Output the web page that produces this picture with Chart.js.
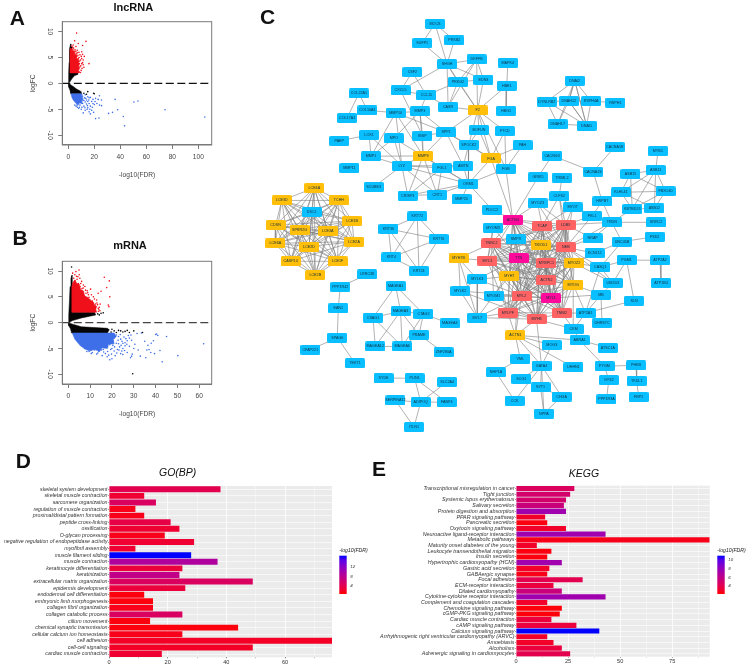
<!DOCTYPE html>
<html><head><meta charset="utf-8">
<script src="https://cdn.jsdelivr.net/npm/chart.js@4"></script>
<style>
html,body{margin:0;padding:0;background:#fff;width:746px;height:665px;overflow:hidden}
canvas{position:absolute;left:0;top:0;filter:blur(.3px)}
.t{position:absolute;transform:translate(-50%,-50%);font-family:"Liberation Sans",sans-serif;color:#111;white-space:nowrap}
</style></head><body>
<script>
// ---------- Volcano A (lncRNA): x = -log10(FDR), y = logFC ----------
const aBlackUpOutline=[[0,0],[.2,1],[.4,2],[.6,4],[.8,5.5],[1,6.6],[1.6,7.4],[2.3,7.1],[1.8,6.4],[1.4,5],[1.4,2],[7,2],[7.2,1.7],[5,1.5],[3,1],[1,.2],[0,0]];
const aBlackDownOutline=[[0,0],[.5,-.8],[1.5,-1.5],[2,-2],[10.5,-2],[10,-1.6],[6.4,-1.1],[3.8,-.6],[1.5,-.2],[0,0]];
const aRedOutline=[[1.3,2],[1.3,6.6],[2.2,6.9],[3.2,6.7],[3.6,6.2],[4.6,6.3],[5,5.5],[6,5.6],[6.3,4.8],[7.6,4.7],[7.6,4],[8.6,3.9],[8,3.2],[8.8,3],[7.8,2.5],[8,2],[1.3,2]];
const aBlueOutline=[[2,-2],[10,-2],[10.5,-2.6],[11.5,-3],[10.2,-3.4],[10.5,-3.9],[8.5,-3.8],[7.8,-4.2],[6,-3.9],[5,-3.6],[3.5,-3.1],[2.6,-2.6],[2,-2]];
const aRedPoints=[[6.4,9.7],[13.6,8.1],[11,7.3],[3.8,7.4],[4.9,8.2],[7.7,7.7],[5.9,7.1],[6.9,6.4],[10.3,6.1],[9,5.5],[11,5.6],[7.7,4.8],[10.3,4.8],[11.5,4.5],[15.9,3.8],[8.5,3.8],[10.3,3.8],[11,4],[9,3.2],[11.5,3.6],[8.5,2.2],[6.9,2.5],[5.2,6.5],[6.2,5.8],[7.4,5.4],[8.3,5],[9.4,4.5],[7.9,4.2],[8.8,4.3],[7.6,3.1],[8,2.8],[3.2,7],[2.6,7.2],[4.1,6.8],[6.6,5.2],[5.8,6.2],[9.6,3.4],[12,3.1],[9.9,2.5],[10.6,2.9],[9.3,2.1],[12.3,5.2],[8.2,6],[7.1,5.9],[10,5.2]];
const aBluePoints=[[10,-5],[8,-4.8],[12,-4.4],[13,-5.2],[15,-4.7],[16,-5.5],[17,-5.9],[18,-5.2],[14,-3.2],[15,-2.6],[16,-2.8],[18,-3.5],[19,-3.9],[20,-4.1],[22,-3.9],[23,-3.1],[21,-2.9],[24,-4.2],[11,-2.5],[13,-2.2],[17,-2.7],[25.5,-3.2],[24,-2.4],[25.6,-4.3],[21,-6.8],[23.6,-6.7],[31,-5.8],[34,-5.6],[38,-5.1],[36,-3.1],[50.5,-3.6],[53.6,-3.4],[42.3,-6.4],[43.3,-8.2],[74.4,-5.1],[105,-6.5],[9,-3.6],[11,-3.9],[12,-3.3],[14,-4],[16,-3.9],[7,-4.6],[9,-4.2],[11.5,-5.7],[5,-4.2],[6,-4.4],[13,-3.6],[12.5,-2.8],[15,-3.5],[17,-4.4],[18.5,-4.6],[14.5,-5],[10.5,-4.6],[19.5,-5.6],[12.8,-4.7],[11.2,-3.2],[13.5,-2.9],[14.7,-4.3],[8.6,-4.6],[6.8,-4.2],[15.8,-3.2],[16.6,-5],[19,-3.1],[20.6,-3.5]];
const aBlackPoints=[[15,-1.6],[20,-2],[19.5,-1.9],[14,-2.1],[12,-1.9],[1.9,7.5],[2.5,6.9],[8,-1.5]];

// ---------- Volcano B (mRNA) ----------
const bBlackUpOutline=[[0,0],[.2,1.5],[.5,4],[.8,7],[1.2,8.6],[1.7,9.2],[1.7,2],[12,2],[12.6,1.5],[6,.9],[2,.4],[0,0]];
const bBlackDownOutline=[[0,0],[.2,-.6],[1,-1.2],[1.5,-2],[18,-2],[18.6,-1.4],[18,-1.1],[6,-.8],[2,-.3],[0,0]];
const bRedOutline=[[1.6,2],[1.6,7],[2.4,8],[3,8.3],[3.9,7.6],[5,7.5],[5.6,6.5],[7,6.1],[7.4,5.2],[9,4.9],[10,4.4],[11.2,4.1],[12,3.4],[13,3.2],[12.6,2.6],[13,2],[1.6,2]];
const bBlueOutline=[[1.8,-2],[21,-2],[22,-2.7],[20.6,-3.2],[21,-4.1],[18.4,-4.2],[18,-5],[15.4,-4.9],[14.4,-5.6],[12,-5.2],[10,-5.5],[8,-5.2],[5.5,-4.5],[3,-3.2],[1.8,-2]];
const bRedPoints=[[4.9,10.2],[3.5,9.9],[2,9.6],[3,9.3],[16.5,8.8],[5,9.3],[5.3,8.6],[17.6,6.8],[18.8,8.1],[19,5],[18.3,3.4],[18.6,3.1],[14.5,2.3],[15,6.1],[13.7,5.7],[10.2,6.5],[8.7,6.2],[9.2,5.4],[11.5,5],[13,4.4],[11.5,3.8],[12.2,3],[10.7,2.6],[13.7,2.8],[9.9,4.4],[8.4,4.7],[6.9,7.3],[6.1,8],[7.6,7],[8.1,5.7],[4,8.4],[3,8.1],[2.5,8.6],[4.6,7.6],[5.4,7],[6.6,6.1],[7.2,5.3],[2.2,7.6],[3.7,7.4],[12.4,3.6],[11,4.2],[9.5,4.9],[6.3,6.6],[7.9,6.3],[13.4,3.5],[14.2,3],[13.8,2.2],[14.6,3.6],[10.6,5.4],[12,4.6],[8.9,5.8],[6.8,6.7],[5.7,7.6],[4.4,8.9],[3.8,9],[13.1,3.8],[14,2.6]];
const bBluePoints=[[62,-4.1],[50.2,-6.4],[43,-7.6],[45,-2.7],[40.5,-2.2],[40,-2.3],[41,-2.5],[38,-4],[37,-5.2],[36.5,-4.4],[35,-3.6],[33.5,-2],[31.5,-2.1],[39,-3.5],[37.8,-5.8],[36,-5.3],[42,-5.4],[39.5,-6],[35.5,-6.8],[33,-6.5],[32,-5.3],[30,-5],[29,-6.5],[28.5,-6.8],[29.3,-6.1],[28,-3],[27,-3.5],[26,-4.5],[25,-5],[24,-6],[22,-4],[21,-5.5],[20,-7],[19,-7.2],[18.5,-6.3],[17,-6],[15.5,-6.4],[16,-5.2],[24,-3.2],[25.5,-2.8],[23,-2.7],[26,-3.9],[22.5,-5.2],[20.5,-3.5],[19,-4.3],[18,-3.6],[17,-4.8],[16.5,-3.2],[14,-5.6],[13,-6.1],[11,-5.8],[9.5,-5.6],[23.5,-4.7],[21.5,-6.4],[27,-5.8],[25,-6.2],[30.5,-4.2],[29,-3.4],[23,-4.1],[25,-4],[21,-3],[22,-2.4],[24.5,-5.5],[28,-4.6],[27.5,-2.5],[20,-5],[18,-5.6],[12,-5.3],[7.5,-5],[23.8,-2.3],[24.6,-3.6],[22.8,-3.4],[26.8,-4.2],[28.7,-2.4],[25.8,-5.4],[20.4,-4.4],[19.4,-5.2],[21.2,-4.7],[16.2,-5.7],[15.2,-5.3],[17.8,-6.6],[22.2,-5.9],[23.2,-5.3],[13.5,-5.9],[10.5,-6],[8.5,-5.6],[24.2,-4.4],[26.4,-3.1],[19.8,-6.1]];
const bBlackPoints=[[29.5,-9.9],[1.5,10.8],[34,-1.9],[30,-1.6],[27,-1.5],[25,-1.8],[23,-1.5],[20,-1.3],[18.5,-1.4],[22,-1.9],[28,-1.9],[26,-1.7],[15,1.8],[13.5,1.7],[24,-1.6],[21,-1.6],[19.6,-1.8],[16,1.9],[14.2,1.5]];

// ---------- Panel D: GO(BP) ----------
const goTerms=["skeletal system development","skeletal muscle contraction","sarcomere organization","regulation of muscle contraction","proximal/distal pattern formation","peptide cross-linking","ossification","O-glycan processing","negative regulation of endopeptidase activity","myofibril assembly","muscle filament sliding","muscle contraction","keratinocyte differentiation","keratinization","extracellular matrix organization","epidermis development","endodermal cell differentiation","embryonic limb morphogenesis","collagen fibril organization","collagen catabolic process","cilium movement","chemical synaptic transmission","cellular calcium ion homeostasis","cell adhesion","cell-cell signaling","cardiac muscle contraction"];
const goCounts=[38,12,16,9,12,21,24,19,29,9,28,37,25,24,49,26,12,15,15,25,14,44,25,76,49,18];
const goFdr=[4,2.5,5,1.5,1.5,3.5,2.5,1.5,2.5,2.5,16.6,9,3,7.5,5,3,1,1,1.5,5,1,1,1.5,2,2,2.5];

// ---------- Panel E: KEGG ----------
const keggTerms=["Transcriptional misregulation in cancer","Tight junction","Systemic lupus erythematosus","Salivary secretion","Protein digestion and absorption","PPAR signaling pathway","Pancreatic secretion","Oxytocin signaling pathway","Neuroactive ligand-receptor interaction","Metabolic pathways","Maturity onset diabetes of the young","Leukocyte transendothelial migration","Insulin secretion","Hypertrophic cardiomyopathy (HCM)","Gastric acid secretion","GABAergic synapse","Focal adhesion","ECM-receptor interaction","Dilated cardiomyopathy","Cytokine-cytokine receptor interaction","Complement and coagulation cascades","Chemokine signaling pathway","cGMP-PKG signaling pathway","Cardiac muscle contraction","cAMP signaling pathway","Calcium signaling pathway","Arrhythmogenic right ventricular cardiomyopathy (ARVC)","Amoebiasis","Alcoholism","Adrenergic signaling in cardiomyocytes"];
const keggCounts=[28,26,24,23,24,14,15,24,43,93,10,17,15,22,16,15,32,18,22,43,15,22,21,17,29,40,15,18,22,26];
const keggFdr=[4.5,5,5,5.5,7.5,3,2.4,3,7.5,2.6,3,2.4,2.4,7.5,3,2.6,4,3.5,5.5,7.5,3,2.3,2.3,3.5,3.5,11,3,3,3.5,4];

// ---------- Panel C: network nodes [label, layoutX, layoutY] ----------
const cyanNodes=[["MOCS",436,18],["SUFP1",423,37.7],["PRKB2",455.7,35],["SHGH",448.3,59],["DKFFB",478.3,54.3],["EDN3",485.3,75],["PRKG2",459.3,77.3],["CSF2",413,67.3],["CXCL5",401,86],["CCL11",427.3,91],["CASR",449.3,102.7],["COL22A1",358.7,89],["COL10A1",367.3,106.3],["COL17A1",346.7,114],["MMP10",396,108.7],["MMP3",420.7,107.3],["SPP1",447.3,128.7],["BOFUN",480.7,126],["LOX1",369,131.3],["PAEP",338.7,137.3],["MPO",394.3,134.7],["IBSP",423.3,132],["SPOCK2",470.3,141.3],["MMP1",371,153],["MMP11",349,165],["LYZ",402.3,162.7],["AMTN",464.7,162.7],["FGL1",443,165],["ORM1",470,181],["SCUBE3",373.7,184.3],["CRISP3",408.3,193],["CRT1",438.3,192],["MMP20",463,196.7],["PDCC2",494,207.3],["MAPK4",510,57.7],["HBE1",509,81],["HBG1",508.3,106.7],["FTCD",507,127.3],["PAH",525,141.7],["FGB",508,165.7],["DNAI2",578,76],["DYNLRB2",549.7,97.3],["DNAH12",572,96.7],["RSPH4A",594.7,97],["RSPH1",619.3,98.3],["DNAH17",560.7,120.3],["DNAI1",590,121.7],["CACNG3",555,152.3],["CACNA1E",618.7,143.7],["CACNA1S",596.7,168.7],["GRIK5",540.7,174.3],["TRIML2",565,174.7],["MYBC",662.7,147.7],["ASB11",660.3,167],["ASB15",634.7,171],["KLHL41",625,189.7],["FBXO40",670.3,188.7],["HSPB7",606,199],["KBTBD13",636.5,206.7],["ASB12",659,206],["CLFS2",562.3,193.7],["MYOZ3",540.3,201],["MYOT",576,205],["FKL1",595.7,213.7],["TRDN",615.7,220.3],["SRRC2",660.7,220.3],["MYOM3",495,225.7],["SMPX",518.2,237.7],["NRAP",596.3,236.7],["UNC45B",626,240],["FSD2",659.3,235],["KCNJ12",598.3,251.7],["CASQ1",604,266],["PGM1",630.7,258.7],["ATP2A2",664.7,259],["ATP1B4",665.7,282],["LMOD3",616.7,282],["MB",604.7,294],["MYOM1",495.5,295],["SLN",638.3,300],["ATP2A1",589,312.7],["CKM",577,329],["DHRS7C",605.7,322.7],["ABRA1",583,340.3],["MOG3",554.7,345.3],["ATSC1A",611.7,348],["VML",522.7,359.3],["GATA4",544.3,366.3],["UHHN1",576.7,368],["PYGM",608.3,366.7],["PHKB",640.3,366],["NHP1A",498,373],["SCG1",523.7,379.7],["GYS2",612.7,381],["TKDL1",641,381.7],["SYT1",543.3,388.3],["CHGA",564.7,397.7],["PPP1R3A",610.3,400.3],["FBP2",643,398],["CCK",517,402],["NPPA",546.7,415],["MYLK3",479,278.3],["MYLK2",461.7,290.3],["MYL7",479,317.3],["DSC1",310.7,210],["KRT72",418,214.3],["KRT36",388.7,227],["KRT76",439.7,237.3],["KRT4",391.7,256],["KRT24",419.7,269.7],["LRRC38",367,273.3],["PPP1R42",339.7,286],["EAN1",337.7,307.7],["SPAG6",336.7,337.7],["CFAP221",309.3,350],["TEKT1",354.7,363.7],["MAGEA1",396,285],["MAGEA3",401,311],["CSAG1",373,317.3],["CTAG2",424.3,313.7],["MAGEA4",451,323.3],["PRAME",419.7,334.7],["MAGEA12",375.3,346.7],["MAGEA6",402.7,346.7],["ZNF280A",444.7,352.7],["SYDE",383.7,379],["PLIN1",415.3,379],["SLC2A4",448.3,382.7],["SERPINA12",395.8,401.7],["ADIPOQ",421.5,403.3],["FABP4",448,403.5],["ITLN1",414.7,428.7]];
const yellowNodes=[["F2",479.3,106.3],["MMP9",424,152.7],["FGA",493,155.3],["LCE4A",313.3,185.3],["LCE3D",280.3,198],["TCHH",338.3,198],["LCE1B",351.7,219],["CDSN",274,223],["SPRR2G",298.3,227.7],["LCE3A",327,229.3],["LCE2A",353.7,240],["LCE6A",273.7,241.7],["LCE2D",308,245],["CASP14",289.3,260],["LCE1F",337,260],["LCE2B",314.3,274],["MYH7B",460,257],["TMOD1",543.5,243.2],["MYOZ2",577.3,261.7],["MYH7",511.5,275.3],["MYOG",576.5,283.7],["ACTN1",517.7,335.3]];
const redNodes=[["TCAP",545,224.2],["LDB3",568.7,222.8],["TNNC2",493.3,241.8],["NEB",569,245.8],["MYL3",489.2,259.2],["MYBPC1",549.2,261.5],["ACTN2",549.3,279.2],["MYL2",524,295],["MYLPF",510,312.2],["TNNI2",564.8,312.7],["MYH8",539.2,319]];
const pinkNodes=[["ACTN3",515,217.5],["TTN",521,256.7],["MYL1",554,297.5]];

// each list: the first node is linked to each of the others
const edgeFans=[
["MOCS","SUFP1","PRKB2","SHGH"],["SHGH","SUFP1","PRKB2","DKFFB","EDN3","PRKG2","CASR","F2","CXCL5"],["DKFFB","EDN3","PRKG2","CASR","F2"],["EDN3","PRKG2","F2"],["PRKG2","CCL11","CASR","F2"],["CASR","F2","CCL11"],["CSF2","CXCL5","CCL11"],["CXCL5","CCL11","IBSP"],["CCL11","MMP3"],
["COL22A1","COL10A1","COL17A1"],["COL10A1","COL17A1","MMP10"],["MMP10","MMP3","MMP1","MMP9","SPP1","LYZ"],["MMP3","MMP9","SPP1","IBSP","MPO"],["LOX1","PAEP","LYZ","MMP1"],["MPO","LYZ","MMP9","MMP1"],["IBSP","SPP1","MMP9"],["SPP1","F2","MMP9","FGA","SPOCK2","AMTN"],["BOFUN","F2","FGA","SPOCK2"],["F2","SPOCK2","FGA","FGB","HBE1"],["SPOCK2","AMTN","ORM1","FGA"],
["MMP9","MMP1","LYZ","FGL1","CRT1","CRISP3","ORM1"],["LYZ","FGL1","AMTN","ORM1","CRISP3","CRT1","SCUBE3","MMP1"],["FGL1","ORM1","CRT1","CRISP3","AMTN"],["AMTN","ORM1"],["ORM1","FGA","CRT1","CRISP3","MMP20","PDCC2"],["CRISP3","CRT1"],
["HBE1","HBG1","MAPK4"],["FGA","FTCD","FGB","PAH","ACTN3"],["FTCD","FGB","F2"],["PAH","FGB"],["FGB","ACTN3","ORM1"],
["DNAI2","DYNLRB2","DNAH12","RSPH4A","DNAI1","DNAH17"],["DYNLRB2","DNAH12","DNAH17","DNAI1"],["DNAH12","DNAH17","DNAI1","RSPH4A"],["RSPH4A","DNAI1","RSPH1"],["DNAH17","DNAI1"],
["CACNG3","GRIK5","CACNA1S"],["CACNA1E","CACNA1S"],["CACNA1S","HSPB7"],["GRIK5","ACTN3"],["TRIML2","CLFS2"],["ASB11","MYBC","ASB15","KLHL41","FBXO40","KBTBD13","ASB12"],["ASB15","KLHL41","FBXO40","KBTBD13"],["KLHL41","FBXO40","HSPB7","KBTBD13","ASB12"],["FBXO40","KBTBD13","ASB12"],["KBTBD13","ASB12","TRDN"],
["HSPB7","FKL1","TRDN"],["TRDN","FKL1","SRRC2","NRAP","UNC45B","LDB3","NEB","MYOT"],["UNC45B","FSD2","KCNJ12","CASQ1"],["PGM1","ATP2A2","SLN","CASQ1","LMOD3"],["ATP2A2","ATP1B4"],["LMOD3","CASQ1","MB","MYOZ2","NEB"],["MB","ATP2A1","DHRS7C","MYOG","MYL1"],["ATP2A1","SLN","DHRS7C","TNNI2","MYOG","CKM"],["CKM","TNNI2","ABRA1","MYOG","MYH8"],["ABRA1","ATSC1A","PYGM","ACTN1"],["PYGM","PHKB","GYS2"],["GYS2","PPP1R3A"],["PHKB","TKDL1"],["TKDL1","FBP2"],
["ACTN1","MOG3","VML","GATA4","UHHN1","MYH8","MYLPF","TTN","MYL2"],["GATA4","MOG3","MYH8","SCG1","SYT1","CHGA","NPPA","CCK"],["VML","NHP1A"],["NHP1A","CCK"],["SYT1","NPPA"],["CHGA","NPPA","SYT1"],
["MYLK3","MYL7","MYL2","MYLK2","MYH7B","TTN","MYH7"],["MYLK2","MYL7","MYL2","MYH8"],["MYH7B","MYL7","MYL3","TNNC2","MYLK2"],["MYOM1","MYL7","TTN","MYL1","MYH7","MYL2","MYH8","TNNC2"],["MYL7","MYLPF","MYH8","MYL2"],
["MYOM3","ACTN3","TNNC2","TTN","MYL3"],["SMPX","ACTN3","TTN","TCAP","TMOD1","NEB","MYH7"],["MYOZ3","ACTN3","TCAP","CLFS2","LDB3","NEB"],["CLFS2","TCAP","LDB3","NEB","MYOT"],["MYOT","LDB3","TCAP","NEB"],["FKL1","LDB3","NEB"],["NRAP","NEB","LDB3"],["KCNJ12","NEB","MYOZ2"],["CASQ1","MYOZ2","ATP2A1","NEB"],["PDCC2","ACTN3"],
["MAGEA1","CSAG1","MAGEA3","CTAG2"],["MAGEA3","CSAG1","CTAG2","PRAME","MAGEA12","MAGEA6"],["CSAG1","MAGEA12","MAGEA6"],["CTAG2","MAGEA4","PRAME","MAGEA6"],["PRAME","MAGEA6","ZNF280A"],["MAGEA12","MAGEA6"],
["LRRC38","PPP1R42"],["PPP1R42","EAN1"],["EAN1","SPAG6"],["SPAG6","CFAP221","TEKT1"],
["SYDE","PLIN1"],["PLIN1","ADIPOQ","FABP4"],["SLC2A4","ADIPOQ"],["SERPINA12","ADIPOQ","ITLN1"],["ADIPOQ","FABP4","ITLN1"]
];
// fully interlinked groups
const edgeCliques=[
["KRT72","KRT36","KRT76","KRT4","KRT24"],
["DNAH12","DNAI2","DNAI1"],
["LCE4A","LCE3D","TCHH","LCE1B","CDSN","SPRR2G","LCE3A","LCE2A","LCE6A","LCE2D","CASP14","LCE1F","LCE2B","DSC1"],
["ACTN3","TCAP","LDB3","TNNC2","TMOD1","NEB","MYL3","TTN","MYBPC1","MYOZ2","MYH7","ACTN2","MYOG","MYL2","MYL1","MYLPF","TNNI2","MYH8"]
];

// ---------- helpers ----------
const xy=a=>a.map(p=>({x:p[0],y:p[1]}));
const labelFont='"Liberation Sans",sans-serif';
const PAGE_W=746,PAGE_H=665;
function mk(){const c=document.createElement('canvas');c.width=PAGE_W;c.height=PAGE_H;c.style.width=PAGE_W+'px';c.style.height=PAGE_H+'px';document.body.appendChild(c);return c.getContext('2d');}
Chart.defaults.animation=false;
Chart.defaults.font.family=labelFont;

const boxPlugin={id:'box',afterDraw(ch){const a=ch.chartArea,c=ch.ctx;c.save();c.strokeStyle='#7a7a7a';c.lineWidth=1;c.strokeRect(a.left,a.top,a.right-a.left,a.bottom-a.top);c.restore();}};

function volcano(d){
  const area=d.area,outline=(o,col)=>({data:xy(o),showLine:true,fill:'shape',backgroundColor:col,borderColor:col,borderWidth:.5,pointRadius:0,tension:0});
  const pts=(p,col)=>({data:xy(p),pointRadius:.8,pointBorderWidth:0,backgroundColor:col,showLine:false});
  const RED='#f0101a',BLUE='#3f6fe8',BLK='#050505';
  new Chart(mk(),{type:'scatter',plugins:[boxPlugin],data:{datasets:[
    {data:[{x:d.xMin,y:0},{x:d.xMax,y:0}],showLine:true,borderColor:d.dash,borderWidth:1.4,borderDash:[8,3.5],pointRadius:0},
    pts(d.black,BLK),pts(d.red,RED),pts(d.blue,BLUE),
    outline(d.oRed,RED),outline(d.oBlue,BLUE),outline(d.oUp,BLK),outline(d.oDown,BLK)
  ]},options:{responsive:false,layout:{padding:{left:area[0]-33,top:area[1],right:PAGE_W-area[2],bottom:PAGE_H-area[3]-34}},
    plugins:{legend:{display:false},tooltip:{enabled:false}},
    scales:{
      x:{type:'linear',min:d.xMin,max:d.xMax,afterFit:s=>{s.height=34},afterBuildTicks:s=>{s.ticks=d.xTicks.map(v=>({value:v}))},
         border:{color:'#7a7a7a'},grid:{drawOnChartArea:false,color:'#7a7a7a',tickLength:4},
         ticks:{font:{size:6.6},color:'#444',padding:4.5,maxRotation:0,callback:v=>v},
         title:{display:true,text:'-log10(FDR)',font:{size:6.6},color:'#444',padding:0}},
      y:{type:'linear',min:-11.9,max:11.9,afterFit:s=>{s.width=33},afterBuildTicks:s=>{s.ticks=[-10,-5,0,5,10].map(v=>({value:v}))},
         border:{color:'#7a7a7a'},grid:{drawOnChartArea:false,color:'#7a7a7a',tickLength:4},
         ticks:{font:{size:6.6},color:'#444',padding:3.5,minRotation:-90,maxRotation:-90,crossAlign:'center',callback:v=>v},
         title:{display:true,text:'logFC',font:{size:6.6},color:'#444',padding:0}}
    }}});
}
volcano({area:[62.3,21.7,211.7,145],xMin:-4.6,xMax:110.3,xTicks:[0,20,40,60,80,100],dash:'#111',oUp:aBlackUpOutline,oDown:aBlackDownOutline,oRed:aRedOutline,oBlue:aBlueOutline,red:aRedPoints,blue:aBluePoints,black:aBlackPoints});
volcano({area:[62.3,261.3,211.7,384],xMin:-2.75,xMax:65.7,xTicks:[0,10,20,30,40,50,60],dash:'#444',oUp:bBlackUpOutline,oDown:bBlackDownOutline,oRed:bRedOutline,oBlue:bBlueOutline,red:bRedPoints,blue:bBluePoints,black:bBlackPoints});

// network
(function(){
  const all=[...cyanNodes,...yellowNodes,...redNodes,...pinkNodes];
  const pos={};all.forEach(n=>pos[n[0]]=n);
  const seg=[];
  const add=(a,b)=>{if(pos[a]&&pos[b])seg.push({x:pos[a][1],y:pos[a][2]},{x:pos[b][1],y:pos[b][2]},{x:NaN,y:NaN});};
  edgeFans.forEach(f=>f.slice(1).forEach(o=>add(f[0],o)));
  edgeCliques.forEach(g=>g.forEach((a,i)=>g.slice(i+1).forEach(b=>add(a,b))));
  function chip(col){const s=document.createElement('canvas');s.width=20;s.height=10;const c=s.getContext('2d');c.fillStyle=col;c.beginPath();c.roundRect(0,0,20,10,1.5);c.fill();return s;}
  const nd=(list,col)=>({data:list.map(n=>({x:n[1],y:n[2],label:n[0]})),pointStyle:chip(col),pointRadius:5,showLine:false});
  const labels={id:'nodeLabels',afterDatasetsDraw(ch){const c=ch.ctx;c.save();c.font='3.7px '+labelFont;c.fillStyle='#10303f';c.textAlign='center';c.textBaseline='middle';
    ch.data.datasets.forEach((ds,i)=>{if(ds.showLine)return;ch.getDatasetMeta(i).data.forEach((el,k)=>c.fillText(ds.data[k].label,el.x,el.y));});c.restore();}};
  new Chart(mk(),{type:'scatter',plugins:[labels],data:{datasets:[
    nd(pinkNodes,'#ff0a9a'),nd(redNodes,'#ff6262'),nd(yellowNodes,'#ffbf0a'),nd(cyanNodes,'#0abfff'),
    {data:seg,showLine:true,spanGaps:false,borderColor:'rgba(125,125,125,.85)',borderWidth:.7,pointRadius:0}
  ]},options:{responsive:false,layout:{padding:0},plugins:{legend:{display:false},tooltip:{enabled:false}},
    scales:{x:{type:'linear',min:0,max:PAGE_W,display:false},y:{type:'linear',min:0,max:PAGE_H,reverse:true,display:false}}}});
})();

// bars
function rampColor(t){t=Math.max(0,Math.min(1,t));return `rgb(${Math.round(255*Math.pow(1-t,.5))},0,${Math.round(255*Math.pow(t,.75))})`;}
function fdrColor(v,lo,hi){return rampColor((v-lo)/(hi-lo));}
function barPanel(o){
  const bgPlugin={id:'panelBg',beforeDraw(ch){const a=ch.chartArea,c=ch.ctx;c.save();c.fillStyle='#ebebeb';c.fillRect(a.left,a.top,a.right-a.left,a.bottom-a.top);c.restore();}};
  const barLegend={id:'barLegend',afterDraw(ch){const c=ch.ctx,L=o.legend;c.save();
    const g=c.createLinearGradient(0,L.bottom,0,L.top);[0,.125,.25,.375,.5,.625,.75,.875,1].forEach(s=>g.addColorStop(s,rampColor(s)));c.fillStyle=g;c.fillRect(L.x,L.top,7.4,L.bottom-L.top);
    c.fillStyle='#222';c.font='italic 5.2px '+labelFont;c.textBaseline='middle';c.textAlign='left';c.fillText('-log10(FDR)',L.x,L.titleY);
    c.font='italic 4.4px '+labelFont;L.ticks.forEach(t=>{c.fillStyle='#333';c.fillText(t,L.x+11,L.bottom-(t-o.lo)/(o.hi-o.lo)*(L.bottom-L.top));});c.restore();}};
  const a=o.area;
  new Chart(mk(),{type:'bar',plugins:[bgPlugin,barLegend],data:{labels:o.terms,datasets:[{data:o.counts,backgroundColor:o.fdr.map(v=>fdrColor(v,o.lo,o.hi)),categoryPercentage:1,barPercentage:.9}]},
   options:{indexAxis:'y',responsive:false,layout:{padding:{left:0,top:a[1],right:PAGE_W-a[2],bottom:PAGE_H-a[3]-7}},
    plugins:{legend:{display:false},tooltip:{enabled:false}},
    scales:{
      x:{type:'linear',min:0,max:o.xMax,afterFit:s=>{s.height=7},afterBuildTicks:s=>{s.ticks=o.gridVals.map(v=>({value:v}))},
         border:{display:false},grid:{color:'#fff',lineWidth:c=>o.xTicks.includes(c.tick.value)?.8:.35,tickLength:1,tickColor:'#666'},
         ticks:{font:{size:5.6},color:'#333',padding:.5,maxRotation:0,callback:v=>o.xTicks.includes(v)?v:''}},
      y:{type:'category',afterFit:s=>{s.width=a[0]},border:{display:false},grid:{color:'#fff',lineWidth:.6,offset:false,tickLength:1,tickColor:'#666'},
         ticks:{autoSkip:false,font:{size:o.labelSize,style:'italic'},color:'#333',padding:.5}}
    }}});
}
barPanel({area:[109,486,332,657.3],terms:goTerms,counts:goCounts,fdr:goFdr,lo:.7,hi:16.6,xMax:76,xTicks:[0,20,40,60],gridVals:[0,10,20,30,40,50,60,70],labelSize:5.25,legend:{x:339.3,top:555.7,bottom:594,titleY:551,ticks:[4,8,12]}});
barPanel({area:[516,485.7,709.7,656.7],terms:keggTerms,counts:keggCounts,fdr:keggFdr,lo:2.2,hi:11,xMax:93,xTicks:[0,25,50,75],gridVals:[0,12.5,25,37.5,50,62.5,75,87.5],labelSize:5.35,legend:{x:717.3,top:555.7,bottom:594,titleY:551,ticks:[4,6,8,10]}});

// page text
const pageText=[["A",17.3,18.3,"bold 21px"],["B",20,238,"bold 21px"],["C",267.7,17.3,"bold 21px"],["D",23.3,460.7,"bold 21px"],["E",379,469.3,"bold 21px"],
 ["lncRNA",133.3,6.5,"bold 11px"],["mRNA",130,245,"bold 11px"],["GO(BP)",177.7,471.7,"italic 10.5px"],["KEGG",584,472.5,"italic 10.5px"]];
pageText.forEach(t=>{const d=document.createElement('div');d.className='t';d.textContent=t[0];d.style.left=t[1]+'px';d.style.top=t[2]+'px';d.style.font=t[3]+' "Liberation Sans",sans-serif';document.body.appendChild(d);});
</script>
</body></html>
